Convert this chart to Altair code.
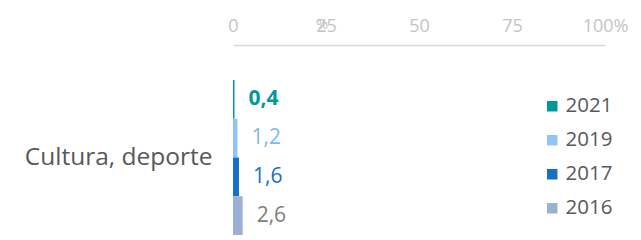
import altair as alt
import pandas as pd

category = ["Cultura, deporte"] * 4
years = ["2021", "2019", "2017", "2016"]
values = [0.4, 1.2, 1.6, 2.6]
bar_colors = ["#00999a", "#92c5f5", "#1570c8", "#9bb0d2"]
label_colors = ["#00999a", "#7fbaf0", "#1a6fc7", "#808080"]
ticks = [0, 25, 50, 75, 100]

df = pd.DataFrame({"cat": category, "year": years, "value": values,
                   "lcolor": label_colors})

FONT = "Open Sans"

base = alt.Chart(df).encode(
    y=alt.Y("cat:N", title=None,
            scale=alt.Scale(paddingInner=0, paddingOuter=0),
            axis=alt.Axis(labelFont=FONT, labelFontSize=24.5, labelColor="#595959",
                          labelLimit=400,
                          ticks=False, tickSize=0, domain=False, labelPadding=21)),
    yOffset=alt.YOffset("year:N", sort=years,
                        scale=alt.Scale(paddingInner=0, paddingOuter=0)),
)

bars = base.mark_bar().encode(
    x=alt.X("value:Q", title=None,
            scale=alt.Scale(domain=[0, 100], nice=False),
            axis=alt.Axis(orient="top", values=ticks, ticks=False, tickSize=0,
                          grid=False, labelFlush=False,
                          offset=35, domainColor="#d9d9d9", domainWidth=1.5,
                          labelFont=FONT, labelFontSize=18, labelColor="#c4c4c4",
                          labelPadding=10,
                          labelExpr="datum.value == 100 ? '100%' : datum.label")),
    color=alt.Color("year:N", sort=years,
                    scale=alt.Scale(domain=years, range=bar_colors),
                    legend=alt.Legend(title=None, orient="none", legendX=309,
                                      legendY=16, symbolType="square",
                                      symbolSize=110, symbolStrokeWidth=0,
                                      labelFont=FONT, labelFontSize=20.5,
                                      labelColor="#595959", rowPadding=13,
                                      labelOffset=3)),
)

labels_bold = base.transform_filter("datum.year == '2021'").transform_calculate(
    lab="replace(format(datum.value, '.1f'), '.', ',')"
).mark_text(align="left", dx=14, font=FONT, fontSize=21, fontWeight="bold").encode(
    x="value:Q", text="lab:N",
    color=alt.Color("lcolor:N", scale=None))

labels_reg = base.transform_filter("datum.year != '2021'").transform_calculate(
    lab="replace(format(datum.value, '.1f'), '.', ',')"
).mark_text(align="left", dx=14, font=FONT, fontSize=21).encode(
    x="value:Q", text="lab:N",
    color=alt.Color("lcolor:N", scale=None))

pct = alt.Chart(pd.DataFrame({"v": [25], "t": ["%"]})).mark_text(
    font=FONT, fontSize=15, color="#c4c4c4", dx=-4, baseline="middle"
).encode(x="v:Q", y=alt.value(-56), text="t:N")

chart = alt.layer(bars, labels_bold, labels_reg, pct).properties(
    width=372, height=155,
    background="white",
    autosize=alt.AutoSizeParams(type="none"),
    padding={"left": 225, "top": 72, "right": 28, "bottom": 5},
).configure_view(stroke=None, strokeWidth=0)

chart.save("out.html", embed_options={"renderer": "svg", "actions": False})
